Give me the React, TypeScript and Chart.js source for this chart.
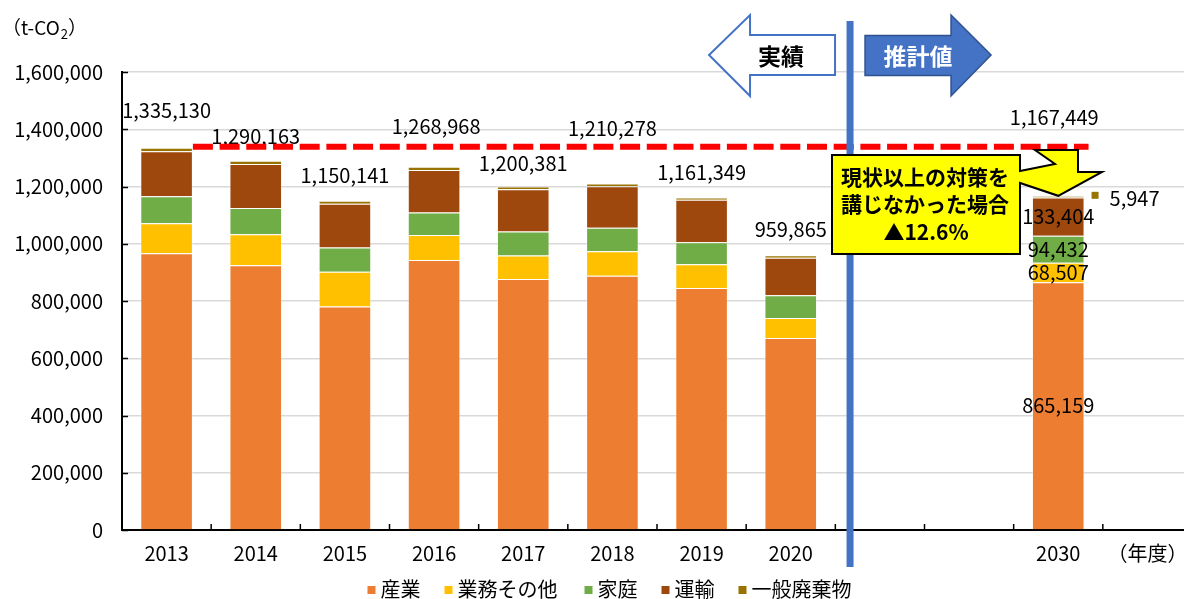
import React, { useEffect, useRef } from 'react';
import { Chart, registerables } from 'chart.js';

Chart.register(...registerables);

const FONT = '"Noto Sans CJK JP", "Noto Sans", sans-serif';

// ---- data ----
const categories = ['2013', '2014', '2015', '2016', '2017', '2018', '2019', '2020', '', '', '2030', '（年度）'];
const seriesNames = ['産業', '業務その他', '家庭', '運輸', '一般廃棄物'];
const sangyo = [967000, 925000, 781000, 943000, 876500, 888500, 845000, 671000, null, null, 865159, null];
const gyomu = [105000, 108000, 121000, 88000, 82700, 85700, 83000, 69500, null, null, 68507, null];
const katei = [94000, 92000, 85000, 78000, 83700, 81600, 77600, 79200, null, null, 94432, null];
const unyu = [157000, 154000, 152500, 149000, 147600, 145000, 147800, 131500, null, null, 133404, null];
const haikibutsu = [12130, 11163, 10641, 10968, 9881, 9478, 7949, 8665, null, null, 5947, null];
const totals = [1335130, 1290163, 1150141, 1268968, 1200381, 1210278, 1161349, 959865, null, null, 1167449, null];
const yMax = 1600000;
const yStep = 200000;
const projectedIndex = 10;
const baselineIndex = 0;
const pastLabel = '実績';
const futureLabel = '推計値';
const calloutLines = ['現状以上の対策を', '講じなかった場合', '▲12.6%'];

// ---- styles / layout (not data) ----
const seriesColors = ['#ED7D31', '#FFC000', '#70AD47', '#9E480E', '#997300'];
const totalLabelLift = [37, 24, 25, 40, 23, 55, 25, 26, 0, 0, 78, 0];
const totalLabelShift = [0, 0, 0, 2, 0, 0, 0, 0, 0, 0, -4, 0];
const dividerPosition = 7.665;
const legendCenterX = 612;
const legendCenterY = 589;

const fmt = (v: number) => v.toLocaleString('en-US');

export default function App() {
  const ref = useRef<HTMLCanvasElement>(null);

  useEffect(() => {
    const canvas = ref.current!;
    const seriesData = [sangyo, gyomu, katei, unyu, haikibutsu];

    const overlay = {
      id: 'overlay',
      afterDraw(chart: any) {
        const { ctx, chartArea: a, scales } = chart;
        const xs = scales.x;
        const ys = scales.y;
        const line = (x1: number, y1: number, x2: number, y2: number) => {
          ctx.beginPath();
          ctx.moveTo(x1, y1);
          ctx.lineTo(x2, y2);
          ctx.stroke();
        };
        ctx.save();

        // inside tick marks
        ctx.strokeStyle = '#000';
        ctx.lineWidth = 1.5;
        ys.ticks.forEach((t: any) => {
          const py = Math.round(ys.getPixelForValue(t.value)) + 0.5;
          line(a.left, py, a.left + 6, py);
        });
        const catW = (a.right - a.left) / categories.length;
        for (let k = 1; k < categories.length; k++) {
          const px = a.left + k * catW;
          line(px, a.bottom, px, a.bottom - 6);
        }

        // total labels
        ctx.fillStyle = '#000';
        ctx.font = `20px ${FONT}`;
        ctx.textAlign = 'center';
        ctx.textBaseline = 'middle';
        totals.forEach((v, i) => {
          if (v == null) return;
          const px = xs.getPixelForValue(i) + totalLabelShift[i];
          const py = ys.getPixelForValue(v) - totalLabelLift[i];
          ctx.fillText(fmt(v), px, py);
        });

        // projected segment labels
        for (let d = 0; d < 4; d++) {
          const el: any = chart.getDatasetMeta(d).data[projectedIndex];
          const v = seriesData[d][projectedIndex] as number;
          ctx.fillText(fmt(v), el.x, (el.y + el.base) / 2);
        }
        const wasteEl: any = chart.getDatasetMeta(4).data[projectedIndex];
        const barRight = wasteEl.x + wasteEl.width / 2;
        const wasteY = ys.getPixelForValue(totals[projectedIndex] as number);
        ctx.fillStyle = seriesColors[4];
        ctx.fillRect(barRight + 7, wasteY - 4, 7, 7);
        ctx.fillStyle = '#000';
        ctx.textAlign = 'left';
        ctx.fillText(fmt(haikibutsu[projectedIndex] as number), barRight + 25, wasteY + 3);

        // red dashed reference line at baseline year total
        const b0: any = chart.getDatasetMeta(4).data[baselineIndex];
        const baseY = ys.getPixelForValue(totals[baselineIndex] as number) - 1;
        ctx.strokeStyle = '#FF0000';
        ctx.lineWidth = 6;
        ctx.setLineDash([20, 6.7]);
        line(b0.x + b0.width / 2, baseY, barRight + 4, baseY);
        ctx.setLineDash([]);

        // blue divider
        const divX = xs.getPixelForValue(dividerPosition);
        ctx.fillStyle = '#4472C4';
        ctx.fillRect(divX - 3.5, 21, 7, 546);

        // arrows
        const poly = (pts: number[][]) => {
          ctx.beginPath();
          ctx.moveTo(pts[0][0], pts[0][1]);
          for (let i = 1; i < pts.length; i++) ctx.lineTo(pts[i][0], pts[i][1]);
          ctx.closePath();
        };
        const lr = divX - 15;
        poly([[lr - 126, 55], [lr - 85, 15], [lr - 85, 35], [lr, 35], [lr, 75], [lr - 85, 75], [lr - 85, 96]]);
        ctx.fillStyle = '#fff';
        ctx.fill();
        ctx.strokeStyle = '#4472C4';
        ctx.lineWidth = 2;
        ctx.stroke();
        const rl = divX + 15;
        poly([[rl, 35.5], [rl + 86, 35.5], [rl + 86, 15], [rl + 126, 55], [rl + 86, 96], [rl + 86, 75.5], [rl, 75.5]]);
        ctx.fillStyle = '#4472C4';
        ctx.fill();
        ctx.strokeStyle = '#2F528F';
        ctx.lineWidth = 1.5;
        ctx.stroke();
        ctx.font = `bold 23px ${FONT}`;
        ctx.textAlign = 'center';
        ctx.textBaseline = 'middle';
        ctx.fillStyle = '#000';
        ctx.fillText(pastLabel, lr - 54, 56);
        ctx.fillStyle = '#fff';
        ctx.fillText(futureLabel, rl + 53, 56);

        // callout
        const tipX = wasteEl.x;
        const tipY = wasteY;
        poly([
          [832, 155], [1020, 155], [1020, 171], [1055, 164], [1035, 150], [1078, 150],
          [1078, 172], [1102, 172], [tipX, tipY], [1020, 183], [1020, 254], [832, 254],
        ]);
        ctx.fillStyle = '#FFFF00';
        ctx.fill();
        ctx.strokeStyle = '#000';
        ctx.lineWidth = 2;
        ctx.lineJoin = 'miter';
        ctx.stroke();
        ctx.fillStyle = '#000';
        ctx.font = `bold 21px ${FONT}`;
        ctx.fillText(calloutLines[0], 925, 177);
        ctx.fillText(calloutLines[1], 925, 204.5);
        ctx.fillText(calloutLines[2], 926, 232);

        // unit label
        ctx.textAlign = 'left';
        ctx.font = `19px ${FONT}`;
        ctx.fillText('（t-CO', 2, 28);
        const w1 = ctx.measureText('（t-CO').width;
        ctx.font = `13px ${FONT}`;
        ctx.fillText('2', 3 + w1, 34);
        const w2 = ctx.measureText('2').width;
        ctx.font = `19px ${FONT}`;
        ctx.fillText('）', 3 + w1 + w2, 28);

        // legend
        ctx.font = `20px ${FONT}`;
        const box = 8, gapBT = 5, gapItem = 22;
        const widths = seriesNames.map((n) => box + gapBT + ctx.measureText(n).width * 1.05);
        const total = widths.reduce((s, w) => s + w, 0) + gapItem * (widths.length - 1);
        let lx = legendCenterX - total / 2;
        seriesNames.forEach((n, i) => {
          ctx.fillStyle = seriesColors[i];
          ctx.fillRect(lx, legendCenterY - 3, box, box);
          ctx.fillStyle = '#000';
          ctx.fillText(n, lx + box + gapBT, legendCenterY);
          lx += widths[i] + gapItem;
        });

        ctx.restore();
      },
    };

    const chart = new Chart(canvas, {
      type: 'bar',
      data: {
        labels: categories,
        datasets: seriesNames.map((name, i) => ({
          label: name,
          data: seriesData[i],
          backgroundColor: seriesColors[i],
          borderColor: 'rgba(255,255,255,0.35)',
          borderWidth: 1,
          barPercentage: 0.59,
          categoryPercentage: 1,
        })),
      },
      options: {
        responsive: false,
        animation: false,
        layout: { padding: { top: 72, right: 8, left: 0, bottom: 0 } },
        plugins: { legend: { display: false }, tooltip: { enabled: false } },
        scales: {
          x: {
            stacked: true,
            grid: { display: false, drawTicks: false },
            border: { color: '#000', width: 2 },
            ticks: { color: '#000', font: { family: FONT, size: 20 }, padding: 11, maxRotation: 0, autoSkip: false },
            afterFit: (s: any) => { s.height = 69; },
          },
          y: {
            stacked: true,
            min: 0,
            max: yMax,
            grid: { color: '#D9D9D9', lineWidth: 1.5, drawTicks: false },
            border: { color: '#000', width: 2 },
            ticks: {
              stepSize: yStep,
              color: '#000',
              font: { family: FONT, size: 20 },
              padding: 19,
              callback: (v: any) => fmt(Number(v)),
            },
            afterFit: (s: any) => { s.width = 122; },
          },
        },
      },
      plugins: [overlay],
    });
    return () => chart.destroy();
  }, []);

  return (
    <div style={{ position: 'fixed', left: 0, top: 0, width: 1184, height: 599, overflow: 'hidden', background: '#fff' }}>
      <canvas ref={ref} width={1200} height={599} style={{ display: 'block' }} />
    </div>
  );
}
